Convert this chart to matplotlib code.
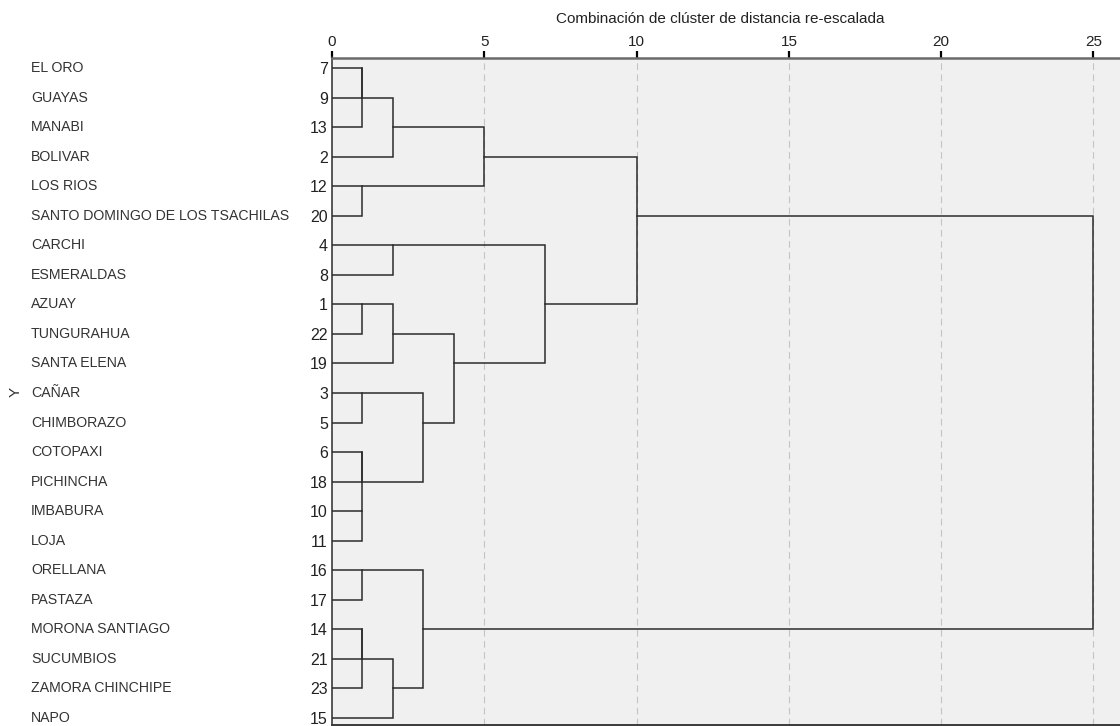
import numpy as np
import matplotlib
matplotlib.use("Agg")
import matplotlib.pyplot as plt
import matplotlib.transforms as mtransforms

plt.rcParams['font.family'] = ['Liberation Sans', 'DejaVu Sans']

# leaf order, top to bottom
provincias = ['EL ORO', 'GUAYAS', 'MANABI', 'BOLIVAR', 'LOS RIOS',
              'SANTO DOMINGO DE LOS TSACHILAS', 'CARCHI', 'ESMERALDAS', 'AZUAY',
              'TUNGURAHUA', 'SANTA ELENA', 'CAÑAR', 'CHIMBORAZO', 'COTOPAXI',
              'PICHINCHA', 'IMBABURA', 'LOJA', 'ORELLANA', 'PASTAZA',
              'MORONA SANTIAGO', 'SUCUMBIOS', 'ZAMORA CHINCHIPE', 'NAPO']
casos = ['7', '9', '13', '2', '12', '20', '4', '8', '1', '22', '19', '3', '5',
         '6', '18', '10', '11', '16', '17', '14', '21', '23', '15']

# agglomeration steps: (member a, member b, rescaled distance); 'mN' = result of step N
pasos = [('7', '9', 1), ('m0', '13', 1), ('m1', '2', 2), ('12', '20', 1),
         ('m2', 'm3', 5), ('4', '8', 2), ('1', '22', 1), ('m6', '19', 2),
         ('3', '5', 1), ('6', '18', 1), ('10', '11', 1), ('m9', 'm10', 1),
         ('m8', 'm11', 3), ('m7', 'm12', 4), ('m5', 'm13', 7), ('m4', 'm14', 10),
         ('16', '17', 1), ('14', '21', 1), ('m17', '23', 1), ('m18', '15', 2),
         ('m16', 'm19', 3), ('m15', 'm20', 25)]

fig = plt.figure(figsize=(11.2, 7.26), dpi=100)
ax = fig.add_axes([332 / 1120, 1 / 726, 1 - 332 / 1120, 1 - 58.5 / 726])
ax.set_facecolor('#f0f0f0')

pos = {c: (0.0, float(i)) for i, c in enumerate(casos)}
for k, (a, b, h) in enumerate(pasos):
    xa, ya = pos[a]
    xb, yb = pos[b]
    ax.plot([xa, h, h, xb], [ya, ya, yb, yb], color='#2b2b2b', lw=1.1,
            solid_joinstyle='miter', zorder=3)
    pos['m%d' % k] = (h, np.floor((ya + yb) / 2))

ax.set_xlim(0, 25.87)
ax.set_ylim(22.24, -0.36)

ax.set_xticks([0, 5, 10, 15, 20, 25])
ax.xaxis.tick_top()
ax.tick_params(axis='x', direction='out', length=5, width=1.6, color='black',
               labelsize=11, labelcolor='#222222', pad=1)
for v in [5, 10, 15, 20, 25]:
    ax.axvline(v, color='#c4c4c4', lw=0.8, ls=(0, (6, 4)), zorder=1)

ax.set_yticks(range(len(casos)))
ax.set_yticklabels(casos)
ax.tick_params(axis='y', length=0, labelsize=11.5, labelcolor='#222222', pad=3)

ax.spines['top'].set_color('#6a6a6a')
ax.spines['top'].set_linewidth(1.8)
ax.spines['left'].set_color('#2b2b2b')
ax.spines['left'].set_linewidth(1.1)
ax.spines['bottom'].set_color('#3a3a3a')
ax.spines['bottom'].set_linewidth(1.4)
ax.spines['right'].set_visible(False)

trans = mtransforms.blended_transform_factory(fig.transFigure, ax.transData)
for i, nombre in enumerate(provincias):
    ax.text(31 / 1120, i, nombre, transform=trans, ha='left', va='center',
            fontsize=10.2, color='#333333')

fig.text(16 / 1120, 1 - 392 / 726, 'Y', rotation=90, ha='center', va='center',
         fontsize=11, color='#333333')
fig.text(720 / 1120, 1 - 19 / 726, 'Combinación de clúster de distancia re-escalada',
         ha='center', va='center', fontsize=11, color='#222222')

fig.savefig('out.png', dpi=100)
